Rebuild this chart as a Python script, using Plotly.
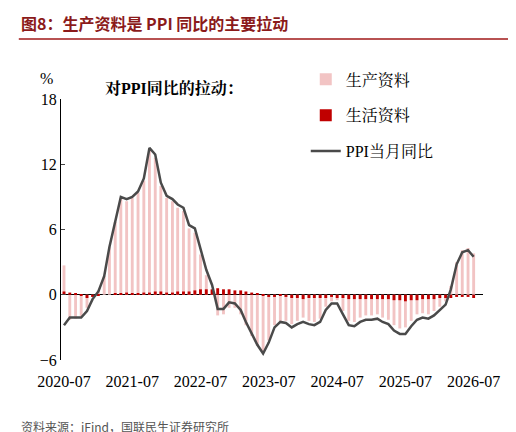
import pandas as pd
import plotly.graph_objects as go

months = pd.date_range("2020-07-01", "2026-07-01", freq="MS")

ppi_yoy = [-2.8, -2.1, -2.1, -2.1, -1.5, -0.4,
           0.3, 1.7, 4.4, 6.8, 9.0, 8.8, 9.0, 9.5, 10.7, 13.5, 12.9, 10.3,
           9.1, 8.8, 8.3, 8.0, 6.4, 6.1, 4.2, 2.3, 0.9, -1.3, -1.3, -0.7,
           -0.8, -1.4, -2.5, -3.6, -4.6, -5.4, -4.4, -3.0, -2.5, -2.6, -3.0, -2.7,
           -2.5, -2.7, -2.8, -2.5, -1.4, -0.8, -0.8, -1.8, -2.8, -2.9, -2.5, -2.3,
           -2.3, -2.2, -2.5, -2.7, -3.3, -3.6, -3.6, -2.9, -2.3, -2.1, -2.2, -1.9,
           -1.4, -0.9, 0.5, 2.8, 3.9, 4.1, 3.5]

production = [2.7, -2.3, -2.2, -2.0, -1.2, -0.2,
              0.4, 1.7, 4.4, 6.7, 8.9, 8.6, 8.9, 9.4, 10.5, 13.3, 12.6, 10.0,
              8.9, 8.6, 8.0, 7.7, 6.1, 5.7, 3.7, 1.8, 0.4, -1.9, -1.8, -1.2,
              -1.2, -1.8, -2.8, -3.8, -4.7, -5.3, -4.2, -2.8, -2.4, -2.4, -2.7, -2.4,
              -2.1, -2.4, -2.5, -2.2, -1.1, -0.6, -0.5, -1.5, -2.4, -2.5, -2.1, -1.9,
              -1.9, -1.8, -2.1, -2.3, -2.8, -3.1, -3.0, -2.4, -1.8, -1.7, -1.8, -1.5,
              -1.1, -0.6, 0.8, 3.0, 4.1, 4.3, 3.8]

living = [0.3, 0.2, 0.1, -0.1, -0.3, -0.2,
          -0.1, 0.0, 0.0, 0.1, 0.1, 0.2, 0.1, 0.1, 0.2, 0.2, 0.3, 0.3,
          0.2, 0.2, 0.3, 0.3, 0.3, 0.4, 0.5, 0.5, 0.5, 0.6, 0.5, 0.5,
          0.4, 0.4, 0.3, 0.2, 0.1, -0.1, -0.2, -0.2, -0.1, -0.2, -0.3, -0.3,
          -0.4, -0.3, -0.3, -0.3, -0.3, -0.2, -0.3, -0.3, -0.4, -0.4, -0.4, -0.4,
          -0.4, -0.4, -0.4, -0.4, -0.5, -0.5, -0.6, -0.5, -0.5, -0.4, -0.4, -0.4,
          -0.3, -0.3, -0.3, -0.2, -0.2, -0.2, -0.3]

tick_vals = ["2020-07-01", "2021-07-01", "2022-07-01", "2023-07-01",
             "2024-07-01", "2025-07-01", "2026-07-01"]
tick_text = ["2020-07", "2021-07", "2022-07", "2023-07", "2024-07", "2025-07", "2026-07"]

serif = "'Liberation Serif', 'Times New Roman', 'Noto Serif CJK SC', serif"

fig = go.Figure()
fig.add_bar(x=months, y=production, name="生产资料", marker_color="#f2c4c4",
            marker_line_width=0, legendgroup="a")
fig.add_bar(x=months, y=living, name="生活资料", marker_color="#c00000",
            marker_line_width=0, legendgroup="b")
fig.add_scatter(x=months, y=ppi_yoy, name="PPI当月同比", mode="lines",
                line=dict(color="#4a4a4a", width=2.5), legendgroup="c")

fig.update_layout(
    width=516, height=432,
    margin=dict(l=53, r=41, t=91, b=80, autoexpand=False),
    plot_bgcolor="white", paper_bgcolor="white",
    barmode="overlay", bargap=0.45,
    font=dict(family=serif, size=16, color="black"),
    legend=dict(x=0.58, y=1.14, xanchor="left", yanchor="top",
                tracegroupgap=12, font=dict(size=16), bgcolor="rgba(0,0,0,0)"),
    xaxis=dict(tickvals=tick_vals, ticktext=tick_text, showgrid=False,
               showline=False, zeroline=False, ticks="", ticklabelstandoff=10,
               range=["2020-06-15", "2026-08-20"]),
    yaxis=dict(range=[-6, 18], tickvals=[-6, 0, 6, 12, 18], showgrid=False,
               showline=True, linecolor="black", linewidth=1, ticks="inside",
               ticklen=4, zeroline=True, zerolinecolor="black", zerolinewidth=1.2),
)

fig.add_annotation(text="<b>图8：生产资料是 PPI 同比的主要拉动</b>", xref="paper", yref="paper",
                   x=-0.1, y=1.29, xanchor="left", yanchor="middle", showarrow=False,
                   font=dict(family="Noto Sans CJK SC", size=16, color="#8b1a1a"))
fig.add_shape(type="line", xref="paper", yref="paper", x0=-0.1, x1=1.09, y0=1.23, y1=1.23,
              line=dict(color="#a01818", width=1.5))
fig.add_annotation(text="<b>对PPI同比的拉动：</b>", xref="paper", yref="paper",
                   x=0.1, y=1.0, xanchor="left", yanchor="bottom", showarrow=False,
                   font=dict(family=serif, size=16))
fig.add_annotation(text="%", xref="paper", yref="paper", x=-0.035, y=1.04,
                   xanchor="center", yanchor="bottom", showarrow=False,
                   font=dict(family=serif, size=16))
fig.add_annotation(text="资料来源：iFind，国联民生证券研究所", xref="paper", yref="paper",
                   x=-0.1, y=-0.253, xanchor="left", yanchor="middle", showarrow=False,
                   font=dict(family="Noto Sans CJK SC", size=12, color="#555555"))

fig.write_html("out.html")
